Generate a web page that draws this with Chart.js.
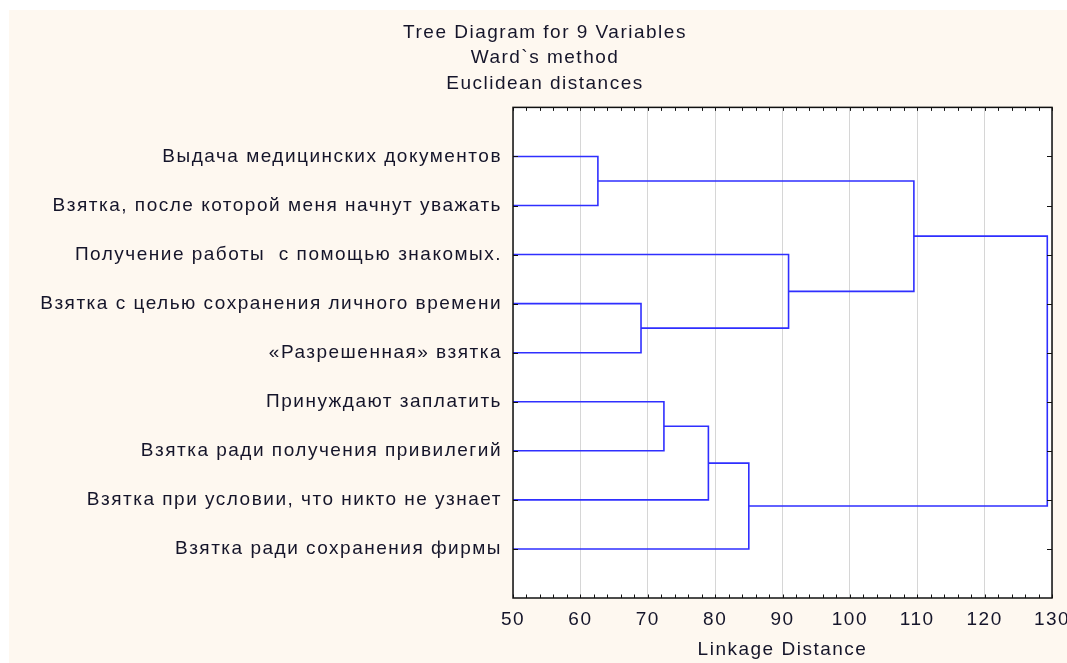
<!DOCTYPE html>
<html>
<head>
<meta charset="utf-8">
<script src="https://cdn.jsdelivr.net/npm/chart.js@4/dist/chart.umd.min.js"></script>
<style>
  html, body { margin: 0; padding: 0; background: #ffffff; }
  canvas { display: block; }
</style>
</head>
<body>
<canvas id="tree" width="1067" height="663"></canvas>
<script>
const titleLines = ['Tree Diagram for 9 Variables', 'Ward`s method', 'Euclidean distances'];
const leafLabels = [
  'Выдача медицинских документов',
  'Взятка, после которой меня начнут уважать',
  'Получение работы  с помощью знакомых.',
  'Взятка с целью сохранения личного времени',
  '«Разрешенная» взятка',
  'Принуждают заплатить',
  'Взятка ради получения привилегий',
  'Взятка при условии, что никто не узнает',
  'Взятка ради сохранения фирмы'
];
// linkage: node ids 0..8 are leaves, 9.. are merges in this order
const mergeLeft = [0, 3, 2, 9, 5, 13, 14, 12];
const mergeRight = [1, 4, 10, 11, 6, 7, 8, 15];
const mergeHeight = [62.6, 69.0, 90.9, 109.5, 72.4, 79.0, 85.0, 129.3];
const xMin = 50, xMax = 130, xStep = 10, xMinorStep = 2;

const nLeaves = leafLabels.length;
function nodePos(id) {
  if (id < nLeaves) return id + 1;
  const m = id - nLeaves;
  return (nodePos(mergeLeft[m]) + nodePos(mergeRight[m])) / 2;
}
function nodeHeight(id) {
  return id < nLeaves ? xMin : mergeHeight[id - nLeaves];
}

const datasets = mergeHeight.map((h, i) => {
  const a = mergeLeft[i], b = mergeRight[i];
  return {
    data: [
      { x: nodeHeight(a), y: nodePos(a) },
      { x: h, y: nodePos(a) },
      { x: h, y: nodePos(b) },
      { x: nodeHeight(b), y: nodePos(b) }
    ],
    showLine: true,
    borderColor: '#2f2fff',
    borderWidth: 1.6,
    pointRadius: 0,
    fill: false
  };
});

const textColor = '#15152a';
const fontFamily = '"Liberation Sans", Arial, sans-serif';
const spacing = '1.5px'; // old GDI text runs wide

// background panel, white plot area, frame and inward ticks
const framePlugin = {
  id: 'frame',
  beforeLayout(chart) {
    chart.ctx.letterSpacing = spacing;
  },
  beforeDraw(chart) {
    const ctx = chart.ctx, a = chart.chartArea;
    ctx.save();
    ctx.fillStyle = '#ffffff';
    ctx.fillRect(0, 0, chart.width, chart.height);
    ctx.fillStyle = '#fef8f0';
    ctx.fillRect(9, 10, chart.width - 9, chart.height - 10);
    ctx.fillStyle = '#ffffff';
    ctx.fillRect(a.left, a.top, a.right - a.left, a.bottom - a.top);
    ctx.restore();
    ctx.letterSpacing = spacing;
  },
  afterDatasetsDraw(chart) {
    const ctx = chart.ctx, a = chart.chartArea;
    const xs = chart.scales.x, ys = chart.scales.y;
    ctx.save();
    ctx.strokeStyle = '#111111';
    ctx.lineWidth = 1;
    ctx.beginPath();
    for (let v = xMin; v <= xMax; v += xMinorStep) {
      const px = Math.round(xs.getPixelForValue(v)) + 0.5;
      const len = 3.5;
      ctx.moveTo(px, a.bottom); ctx.lineTo(px, a.bottom - len);
      ctx.moveTo(px, a.top); ctx.lineTo(px, a.top + len);
    }
    for (let i = 1; i <= nLeaves; i++) {
      const py = Math.round(ys.getPixelForValue(i)) + 0.5;
      ctx.moveTo(a.left, py); ctx.lineTo(a.left + 5, py);
      ctx.moveTo(a.right, py); ctx.lineTo(a.right - 5, py);
    }
    ctx.stroke();
    ctx.lineWidth = 1.5;
    ctx.strokeRect(a.left, a.top, a.right - a.left, a.bottom - a.top);
    ctx.restore();
  }
};

new Chart(document.getElementById('tree'), {
  type: 'scatter',
  data: { datasets: datasets },
  options: {
    responsive: false,
    animation: false,
    events: [],
    layout: { padding: { left: 38, right: 15, top: 0, bottom: 0 } },
    plugins: {
      legend: { display: false },
      tooltip: { enabled: false },
      title: {
        display: true,
        text: titleLines,
        color: textColor,
        font: { family: fontFamily, size: 19, weight: 'normal', lineHeight: 1.34 },
        padding: { top: 20, bottom: 11 }
      }
    },
    scales: {
      x: {
        type: 'linear',
        position: 'bottom',
        min: xMin,
        max: xMax,
        afterFit(scale) {
          scale.height = 65;
          scale.paddingLeft = 0;
          scale.paddingRight = 0;
        },
        ticks: {
          stepSize: xStep,
          color: textColor,
          padding: 10,
          font: { family: fontFamily, size: 19 }
        },
        grid: { color: '#d6d6d6', lineWidth: 1, drawTicks: false },
        border: { display: false },
        title: {
          display: true,
          text: 'Linkage Distance',
          color: textColor,
          font: { family: fontFamily, size: 19 },
          padding: { top: 0, bottom: 2 }
        }
      },
      y: {
        type: 'linear',
        min: 0,
        max: nLeaves + 1,
        reverse: true,
        afterFit(scale) { scale.width = 513 - 38; },
        afterBuildTicks(scale) {
          scale.ticks = leafLabels.map((_, i) => ({ value: i + 1 }));
        },
        ticks: {
          color: textColor,
          padding: 11,
          autoSkip: false,
          font: { family: fontFamily, size: 19 },
          callback: (v) => leafLabels[v - 1] || ''
        },
        grid: { display: false, drawTicks: false },
        border: { display: false }
      }
    }
  },
  plugins: [framePlugin]
});
</script>
</body>
</html>
